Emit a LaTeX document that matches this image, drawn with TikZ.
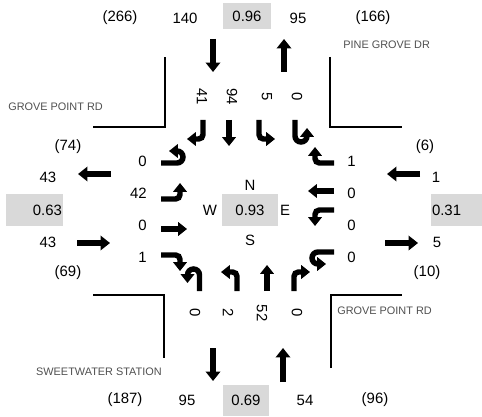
\documentclass[tikz,border=0pt]{standalone}
\usepackage{fontspec}
\setmainfont{Liberation Sans}
\usetikzlibrary{arrows.meta}
\definecolor{boxgray}{HTML}{D9D9D9}
\definecolor{streetgray}{HTML}{505050}

\begin{document}
\begin{tikzpicture}[
  x=0.02cm, y=0.02cm,
  every node/.style={font=\fontsize{8.5}{10}\selectfont, inner sep=0pt},
  street/.style={font=\fontsize{6.2}{7}\selectfont, text=streetgray},
  vcbox/.style={fill=boxgray, inner sep=0pt},
  mv/.style={line width=3.1pt, -{Triangle[width=7.6pt,length=5pt]}},
  bigarr/.style={line width=3.7pt, -{Triangle[width=8.2pt,length=5.4pt]}},
  curb/.style={line width=0.8pt},
  thru/.pic={\draw[mv] (0,-13) -- (0,13);},
  lturn/.pic={\draw[mv, rounded corners=2.5pt] (4,-13) -- (4,6) -- (-12,6);},
  rturn/.pic={\draw[mv, rounded corners=2.5pt] (-4,-13) -- (-4,6) -- (12,6);},
  uturn/.pic={\draw[mv] (6,-13) -- (6,3)
              arc[start angle=0, end angle=180, radius=6] -- (-6,-5);},
]
  \useasboundingbox (0,0) rectangle (482,416);

  % Curb corners
  \draw[curb] (93,289) -- (165,289) -- (165,359);
  \draw[curb] (330,359) -- (330,289) -- (402,289);
  \draw[curb] (93,121) -- (164,121) -- (164,58);
  \draw[curb] (331,48) -- (331,121) -- (402,121);

  % Street names
  \node[street, anchor=west] (nstreet) at (343,371) {PINE GROVE DR};
  \node[street, anchor=west] (wstreet) at (8,309) {GROVE POINT RD};
  \node[street, anchor=west] (estreet) at (337,105) {GROVE POINT RD};
  \node[street, anchor=east] (sstreet) at (162,44) {SWEETWATER STATION};

  % North leg totals
  \node (nInDay)  at (120,398) {(266)};
  \node (nIn)     at (185,398) {140};
  \node[vcbox, minimum width=0.96cm, minimum height=0.52cm] (nVC) at (247,400) {0.96};
  \node (nOut)    at (298,398) {95};
  \node (nOutDay) at (373,398) {(166)};
  \draw[bigarr] (213,377) -- (213,344);
  \draw[bigarr] (284,344) -- (284,377);

  % South leg totals
  \node (sOutDay) at (125,16) {(187)};
  \node (sOut)    at (187,16) {95};
  \node[vcbox, minimum width=0.92cm, minimum height=0.62cm] (sVC) at (246,15.5) {0.69};
  \node (sIn)     at (305,16) {54};
  \node (sInDay)  at (375,16) {(96)};
  \draw[bigarr] (213,68) -- (213,35);
  \draw[bigarr] (283,34) -- (283,68);

  % West leg totals
  \node (wOutDay) at (68,269) {(74)};
  \node (wOut)    at (48,239) {43};
  \node[vcbox, text width=1.1cm, align=right, inner xsep=0.02cm,
        minimum height=0.64cm] (wVC) at (34.5,206) {0.63};
  \node (wIn)     at (48,174) {43};
  \node (wInDay)  at (68,143) {(69)};
  \draw[bigarr] (111,242) -- (78,242);
  \draw[bigarr] (77,173) -- (110,173);

  % East leg totals
  \node (eInDay)  at (425,269) {(6)};
  \node (eIn)     at (436,239) {1};
  \node[vcbox, text width=0.98cm, align=left, inner xsep=0.02cm,
        minimum height=0.64cm] (eVC) at (456.5,206) {0.31};
  \node (eOut)    at (437,174) {5};
  \node (eOutDay) at (427,143) {(10)};
  \draw[bigarr] (420,242) -- (387,242);
  \draw[bigarr] (385,173) -- (418,173);

  % Intersection
  \node[vcbox, minimum width=1.12cm, minimum height=0.64cm] (icu) at (250,206) {0.93};
  \node (north) at (250,231) {N};
  \node (south) at (250,176) {S};
  \node (west)  at (210,206) {W};
  \node (east)  at (285,206) {E};

  % Turning counts
  \foreach \x/\v [count=\i] in {202/41, 232/94, 267/5, 297/0}
    \node[rotate=-90] (nlane\i) at (\x,319) {\v};
  \foreach \x/\v [count=\i] in {195/0, 228/2, 262/52, 297/0}
    \node[rotate=-90] (slane\i) at (\x,103) {\v};
  \foreach \y/\v [count=\i] in {255/0, 223/42, 191/0, 159/1}
    \node[anchor=east] (wlane\i) at (147,\y) {\v};
  \foreach \y/\v [count=\i] in {255/1, 223/0, 191/0, 159/0}
    \node[anchor=west] (elane\i) at (347,\y) {\v};

  % Lane arrows
  \foreach \x/\m in {199/rturn, 229/thru, 263/lturn, 301/uturn}
    \pic[rotate=180] at (\x,283) {\m};
  \foreach \x/\m in {193.5/uturn, 233/lturn, 267/thru, 298/rturn}
    \pic at (\x,138) {\m};
  \foreach \y/\m in {259/uturn, 221/lturn, 187/thru, 157/rturn}
    \pic[rotate=-90] at (174,\y) {\m};
  \foreach \y/\m in {257/rturn, 225/thru, 202/lturn, 158/uturn}
    \pic[rotate=90] at (321,\y) {\m};

\end{tikzpicture}
\end{document}
